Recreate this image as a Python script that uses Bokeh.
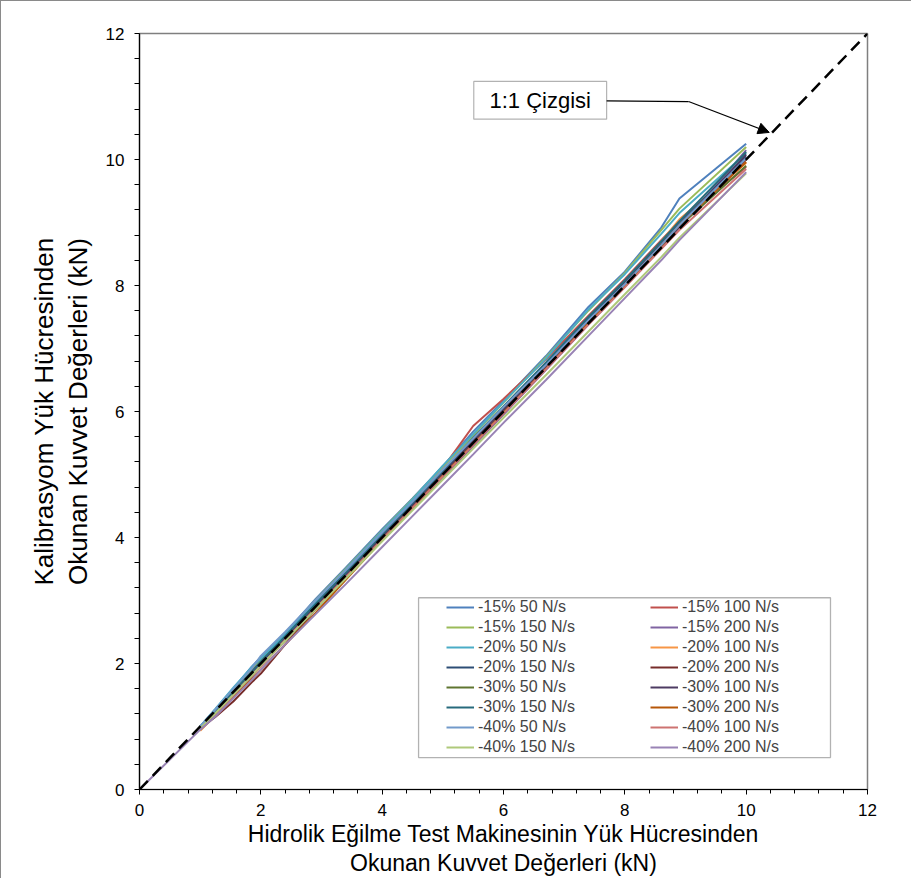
from bokeh.plotting import figure
from bokeh.models import (FixedTicker, Legend, LegendItem, BoxAnnotation, Label,
                          Arrow, NormalHead, Range1d)
from bokeh.embed import file_html
from bokeh.resources import INLINE

# ---------------- data ----------------
X_TICKS = [0, 2, 4, 6, 8, 10, 12]
Y_TICKS = [0, 2, 4, 6, 8, 10, 12]
MINOR_TICKS = [0.4, 0.8, 1.2, 1.6, 2.4, 2.8, 3.2, 3.6, 4.4, 4.8, 5.2, 5.6,
               6.4, 6.8, 7.2, 7.6, 8.4, 8.8, 9.2, 9.6, 10.4, 10.8, 11.2, 11.6]

X_COMMON = [1.00, 1.25, 1.55, 1.85, 2.00, 2.40, 2.90, 3.40, 4.00, 4.50, 5.00,
            5.50, 6.00, 6.70, 7.40, 8.00, 8.60, 8.90, 10.00]
X_FROM_ZERO = [0.00, 1.00, 1.25, 1.55, 1.85, 2.00, 2.40, 2.90, 3.40, 4.00, 4.50,
               5.00, 5.50, 6.00, 6.70, 7.40, 8.00, 8.60, 8.90, 10.00]

Y_15_50 = [1.00, 1.27, 1.60, 1.95, 2.10, 2.48, 3.02, 3.52, 4.13, 4.62, 5.13, 5.68, 6.17, 6.88, 7.66, 8.22, 8.92, 9.38, 10.25]
Y_15_100 = [0.98, 1.22, 1.56, 1.88, 2.04, 2.44, 2.96, 3.47, 4.08, 4.57, 5.10, 5.77, 6.20, 6.83, 7.52, 8.10, 8.72, 9.02, 9.88]
Y_15_150 = [1.00, 1.26, 1.58, 1.92, 2.07, 2.47, 3.00, 3.50, 4.11, 4.61, 5.12, 5.62, 6.14, 6.86, 7.60, 8.20, 8.88, 9.22, 10.20]
Y_15_200 = [0.97, 1.20, 1.50, 1.80, 1.96, 2.36, 2.86, 3.36, 3.96, 4.46, 4.95, 5.45, 5.95, 6.66, 7.38, 7.98, 8.60, 8.92, 10.15]
Y_20_50 = [1.00, 1.28, 1.62, 1.94, 2.08, 2.46, 2.98, 3.49, 4.10, 4.60, 5.14, 5.64, 6.15, 6.84, 7.62, 8.18, 8.82, 9.15, 10.10]
Y_20_100 = [0.93, 1.18, 1.50, 1.82, 1.97, 2.38, 2.88, 3.40, 4.03, 4.52, 5.04, 5.55, 6.05, 6.74, 7.46, 8.06, 8.70, 9.05, 9.95]
Y_20_150 = [0.99, 1.24, 1.55, 1.86, 2.02, 2.42, 2.93, 3.43, 4.04, 4.54, 5.05, 5.56, 6.06, 6.76, 7.47, 8.05, 8.66, 8.98, 10.05]
Y_20_200 = [0.97, 1.15, 1.40, 1.70, 1.84, 2.30, 2.86, 3.38, 4.00, 4.50, 5.02, 5.53, 6.03, 6.72, 7.43, 8.03, 8.64, 8.95, 10.00]
Y_30_50 = [0.98, 1.22, 1.52, 1.83, 1.99, 2.39, 2.90, 3.40, 4.01, 4.51, 5.00, 5.50, 6.01, 6.70, 7.40, 8.00, 8.62, 8.94, 9.90]
Y_30_100 = [0.98, 1.23, 1.53, 1.84, 2.00, 2.40, 2.91, 3.41, 4.02, 4.52, 5.02, 5.52, 6.02, 6.71, 7.42, 8.02, 8.62, 8.93, 10.08]
Y_30_150 = [0.99, 1.24, 1.56, 1.87, 2.03, 2.43, 2.94, 3.44, 4.05, 4.55, 5.06, 5.58, 6.08, 6.78, 7.50, 8.08, 8.70, 9.02, 10.12]
Y_30_200 = [0.95, 1.17, 1.46, 1.76, 1.90, 2.30, 2.80, 3.33, 3.96, 4.47, 4.98, 5.48, 5.98, 6.68, 7.40, 8.00, 8.63, 8.96, 9.96]
Y_40_50 = [1.00, 1.27, 1.60, 1.92, 2.12, 2.50, 3.00, 3.48, 4.08, 4.57, 5.08, 5.57, 6.07, 6.74, 7.45, 8.02, 8.64, 8.96, 10.02]
Y_40_100 = [0.96, 1.20, 1.50, 1.81, 1.96, 2.37, 2.87, 3.37, 3.97, 4.47, 4.97, 5.47, 5.97, 6.67, 7.38, 7.97, 8.58, 8.88, 9.85]
Y_40_150 = [0.97, 1.21, 1.51, 1.81, 1.97, 2.36, 2.86, 3.35, 3.94, 4.43, 4.92, 5.41, 5.90, 6.58, 7.27, 7.86, 8.45, 8.76, 9.78]
Y_40_200 = [0.00, 0.95, 1.16, 1.45, 1.74, 1.90, 2.30, 2.78, 3.26, 3.85, 4.34, 4.83, 5.32, 5.82, 6.50, 7.20, 7.80, 8.40, 8.72, 9.80]

SERIES_NAMES = ["-15% 50 N/s", "-15% 100 N/s", "-15% 150 N/s", "-15% 200 N/s",
                "-20% 50 N/s", "-20% 100 N/s", "-20% 150 N/s", "-20% 200 N/s",
                "-30% 50 N/s", "-30% 100 N/s", "-30% 150 N/s", "-30% 200 N/s",
                "-40% 50 N/s", "-40% 100 N/s", "-40% 150 N/s", "-40% 200 N/s"]
SERIES_X = [X_COMMON] * 15 + [X_FROM_ZERO]
SERIES_Y = [Y_15_50, Y_15_100, Y_15_150, Y_15_200, Y_20_50, Y_20_100, Y_20_150, Y_20_200,
            Y_30_50, Y_30_100, Y_30_150, Y_30_200, Y_40_50, Y_40_100, Y_40_150, Y_40_200]
SERIES_COLORS = ["#4F81BD", "#C0504D", "#9BBB59", "#8064A2", "#4BACC6", "#F79646",
                 "#2C4D75", "#772C2A", "#5F7530", "#4D3B62", "#276A7C", "#B65708",
                 "#729ACA", "#CD7371", "#AFC97A", "#9983B5"]

DIAG_X = [0, 12]
DIAG_Y = [0, 12]

X_LABEL = "Hidrolik Eğilme Test Makinesinin Yük Hücresinden\nOkunan Kuvvet Değerleri (kN)"
Y_LABEL = "Kalibrasyom Yük Hücresinden\nOkunan Kuvvet Değerleri (kN)"
NOTE_TEXT = "1:1 Çizgisi"

FONT = "Liberation Sans"

# ---------------- figure ----------------
p = figure(width=911, height=878, output_backend="svg", toolbar_location=None,
           x_range=Range1d(0, 12), y_range=Range1d(0, 12),
           min_border_left=138, min_border_right=45, min_border_top=32,
           min_border_bottom=89)
p.styles = {"border-left": "1px solid #8a8a8a", "border-top": "1px solid #8a8a8a"}
p.grid.visible = False
p.outline_line_color = "#7f7f7f"
p.outline_line_width = 1.5
p.background_fill_color = "white"
p.border_fill_color = "white"

for ax in (p.xaxis[0], p.yaxis[0]):
    ax.axis_line_color = "black"
    ax.axis_line_width = 1.2
    ax.major_tick_line_color = "black"
    ax.minor_tick_line_color = "black"
    ax.major_tick_in = 0
    ax.minor_tick_in = 0
    ax.major_label_text_font = FONT
    ax.major_label_text_font_size = "17px"
    ax.major_label_text_color = "black"
    ax.axis_label_text_font = FONT
    ax.axis_label_text_font_style = "normal"
    ax.axis_label_text_color = "black"

p.xaxis.ticker = FixedTicker(ticks=X_TICKS, minor_ticks=MINOR_TICKS)
p.yaxis.ticker = FixedTicker(ticks=Y_TICKS, minor_ticks=MINOR_TICKS)
p.xaxis.major_tick_out = 5
p.xaxis.minor_tick_out = 4
p.yaxis.major_tick_out = 5
p.yaxis.minor_tick_out = 5
p.xaxis.major_label_standoff = 9
p.yaxis.major_label_standoff = 10

p.xaxis.axis_label = X_LABEL
p.xaxis.axis_label_text_font_size = "23px"
p.xaxis.axis_label_text_line_height = 1.15
p.xaxis.axis_label_standoff = 2
p.yaxis.axis_label = Y_LABEL
p.yaxis.axis_label_text_font_size = "26px"
p.yaxis.axis_label_text_line_height = 1.12
p.yaxis.axis_label_standoff = 10

# series
renderers = []
for xs, ys, col in zip(SERIES_X, SERIES_Y, SERIES_COLORS):
    r = p.line(xs, ys, line_color=col, line_width=2)
    renderers.append(r)

# 1:1 line
p.line(DIAG_X, DIAG_Y, line_color="black", line_width=2.5, line_dash="12 7")

# legend box
p.add_layout(BoxAnnotation(left=4.60, right=11.39, bottom=0.507, top=3.044,
                           fill_color="white", fill_alpha=1.0,
                           line_color="black", line_width=1.3))
# legend fills column by column: left column = even entries, right column = odd entries
order = list(range(0, 16, 2)) + list(range(1, 16, 2))
items = [LegendItem(label=SERIES_NAMES[i], renderers=[renderers[i]]) for i in order]
legend = Legend(items=items, ncols=2, location=(307, 32),
                padding=0, spacing=0, margin=0,
                glyph_width=28, glyph_height=20, label_height=20,
                label_width=172, label_standoff=4,
                label_text_font=FONT, label_text_font_size="16px",
                border_line_alpha=0, background_fill_alpha=0)
p.add_layout(legend, "center")

# annotation
p.add_layout(BoxAnnotation(left=5.51, right=7.70, bottom=10.64, top=11.24,
                           fill_color="white", fill_alpha=1.0,
                           line_color="black", line_width=1.2))
p.add_layout(Label(x=6.605, y=10.94, text=NOTE_TEXT, text_font=FONT,
                   text_font_size="22px", text_align="center",
                   text_baseline="middle", text_color="black"))
p.add_layout(Arrow(x_start=7.70, y_start=10.93, x_end=9.05, y_end=10.92,
                   end=None, line_color="black", line_width=1.2))
p.add_layout(Arrow(x_start=9.05, y_start=10.92, x_end=10.38, y_end=10.43,
                   end=NormalHead(size=11, fill_color="black", line_color="black"),
                   line_color="black", line_width=1.2))

open("out.html", "w").write(file_html(p, INLINE))
